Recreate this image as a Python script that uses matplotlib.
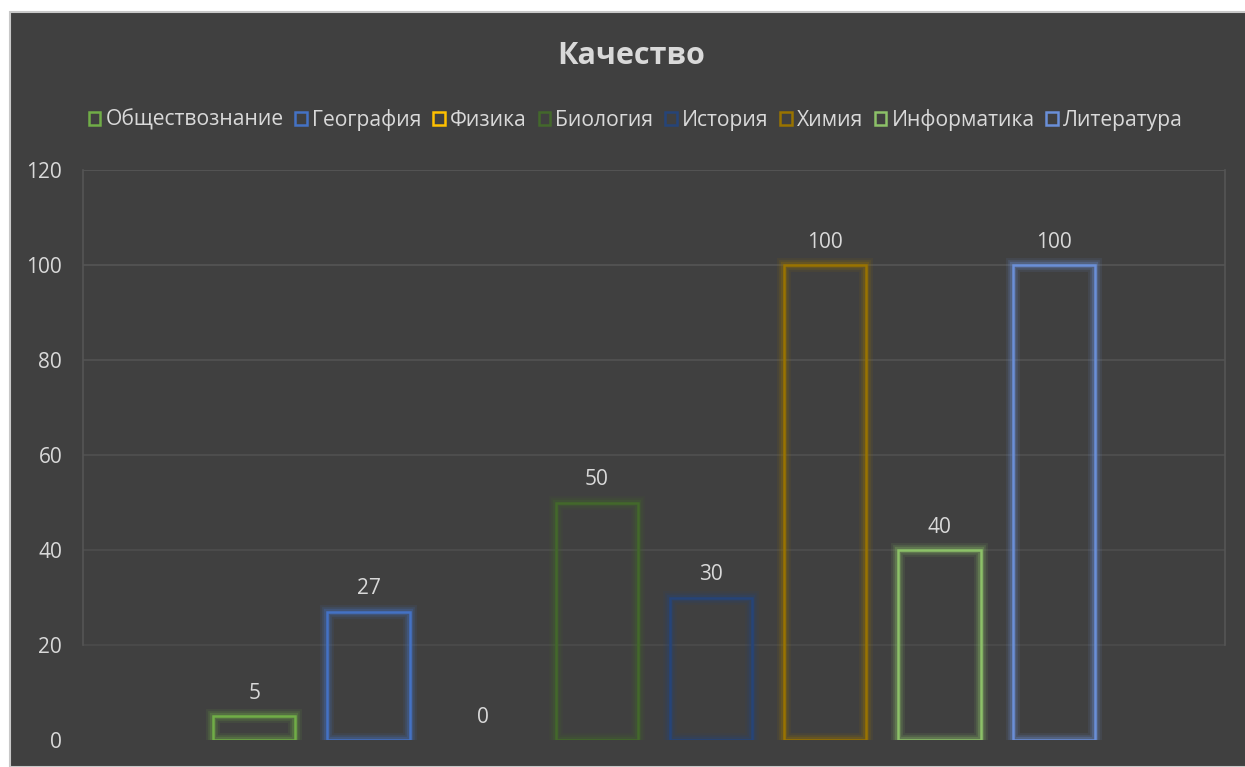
import matplotlib.pyplot as plt
from matplotlib.patches import Rectangle

plt.rcParams['font.family'] = ['Open Sans', 'DejaVu Sans']

# Data
subjects = ["Обществознание", "География", "Физика", "Биология",
            "История", "Химия", "Информатика", "Литература"]
quality = [5, 27, 0, 50, 30, 100, 40, 100]
colors = ["#70AD47", "#4472C4", "#FFC000", "#43682B",
          "#264478", "#997300", "#8CC168", "#6A8FD8"]
yticks = [0, 20, 40, 60, 80, 100, 120]

bg = "#404040"
txt = "#D9D9D9"

fig = plt.figure(figsize=(12.45, 7.67), dpi=100, facecolor="white")
fig.patches.append(Rectangle((10 / 1245, 0), 1, 1 - 12 / 767,
                             transform=fig.transFigure, facecolor=bg,
                             edgecolor="#C8C8C8", linewidth=1.5, zorder=-1))

ax = fig.add_axes([83 / 1245, 27 / 767, (1225 - 83) / 1245, (740 - 170) / 767])
ax.set_facecolor("none")
ax.set_zorder(2)

x = list(range(len(subjects)))
# glow underneath
layers = []
for lw, a in [(10, 0.10), (7, 0.16), (4.5, 0.25)]:
    layers.append(ax.bar(x, quality, width=0.72, facecolor="none", edgecolor=colors,
                         linewidth=lw, alpha=a, zorder=2))
layers.append(ax.bar(x, quality, width=0.72, facecolor="none", edgecolor=colors,
                     linewidth=1.8, zorder=3))
# zero-height bars are not drawn in the original
for cont in layers:
    for b, v in zip(cont, quality):
        if v == 0:
            b.set_visible(False)

for xi, v in zip(x, quality):
    ax.text(xi, v + 2.6, str(v), ha="center", va="bottom", color=txt,
            fontsize=15)

ax.set_xlim(-1.5, 8.5)
ax.set_ylim(0, 120)
ax.set_yticks(yticks)
ax.set_xticks([])
ax.tick_params(axis="y", length=0, colors=txt, labelsize=15, pad=15)
for s in ["top", "bottom"]:
    ax.spines[s].set_visible(False)
for s in ["left", "right"]:
    ax.spines[s].set_color("#555555")
    ax.spines[s].set_linewidth(1.2)
    ax.spines[s].set_bounds(20, 120)

for t in yticks[1:]:
    ax.axhline(t, color="#5A5A5A", linewidth=1.2, alpha=0.35 + 0.55 * t / 120,
               zorder=1)

handles = [Rectangle((0, 0), 1, 1, facecolor="none", edgecolor=c, linewidth=1.8)
           for c in colors]
fig.legend(handles, subjects, loc="center", bbox_to_anchor=(636 / 1245, 1 - 120 / 767),
           ncol=8, frameon=False, fontsize=15.2, labelcolor=txt,
           handlelength=0.55, handleheight=0.55, handletextpad=0.25,
           columnspacing=0.55)

fig.text(631 / 1245, 1 - 56 / 767, "Качество", ha="center", va="center",
         color=txt, fontsize=22, fontweight="bold")

fig.savefig("out.png", dpi=100, facecolor="white")
